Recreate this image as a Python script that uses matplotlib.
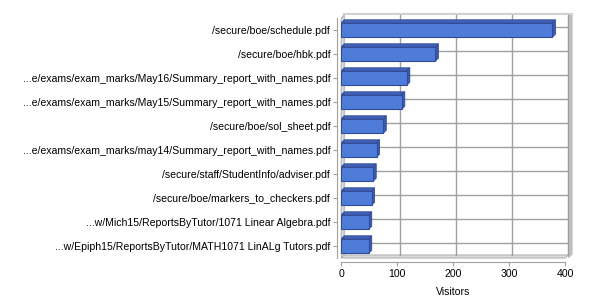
import matplotlib
matplotlib.use("Agg")
import matplotlib.pyplot as plt
from matplotlib.patches import Polygon

# datos
pages = [
    "/secure/boe/schedule.pdf",
    "/secure/boe/hbk.pdf",
    "...e/exams/exam_marks/May16/Summary_report_with_names.pdf",
    "...e/exams/exam_marks/May15/Summary_report_with_names.pdf",
    "/secure/boe/sol_sheet.pdf",
    "...e/exams/exam_marks/may14/Summary_report_with_names.pdf",
    "/secure/staff/StudentInfo/adviser.pdf",
    "/secure/boe/markers_to_checkers.pdf",
    "...w/Mich15/ReportsByTutor/1071 Linear Algebra.pdf",
    "...w/Epiph15/ReportsByTutor/MATH1071 LinALg Tutors.pdf",
]
visitors = [377, 168, 117, 108, 75, 63, 57, 54, 49, 49]
xticks = [0, 100, 200, 300, 400]

plt.rcParams['font.family'] = ['Liberation Sans', 'DejaVu Sans']

fig = plt.figure(figsize=(6, 3), dpi=100)
W, H = 224, 240  # pixeles del plano frontal
ax = fig.add_axes([341.3 / 600, 42 / 300, W / 600, H / 300])
ax.set_xlim(0, 400)
ax.set_ylim(len(pages) - 0.5, -0.5)

# profundidad 3D en pixeles -> datos
ddx = 3 * 400 / W
ddy = 3 * len(pages) / H
top = -0.5
bot = len(pages) - 0.5

# paredes
ax.add_patch(Polygon([(0, top), (ddx, top - ddy), (ddx, bot - ddy), (0, bot)],
                     closed=True, fc='#d9d9d9', ec='#b4b4b4', lw=0.8, clip_on=False, zorder=1))
ax.add_patch(Polygon([(0, bot), (400, bot), (400 + ddx, bot - ddy), (ddx, bot - ddy)],
                     closed=True, fc='#dcdcdc', ec='#b4b4b4', lw=0.8, clip_on=False, zorder=1))
ax.add_patch(Polygon([(400 + ddx, top - 1.2 * ddy), (400 + 2.3 * ddx, top - 1.2 * ddy),
                      (400 + 2.3 * ddx, bot - 1.2 * ddy), (400 + ddx, bot)],
                     closed=True, fc='#c0c0c0', ec='#c0c0c0', lw=0.5, clip_on=False, zorder=1))
ax.plot([ddx, 400 + 2.3 * ddx], [top - 1.2 * ddy, top - 1.2 * ddy], color='#d0d0d0', lw=1.5,
        clip_on=False, zorder=1)

# rejilla en el plano trasero
for t in xticks[1:]:
    ax.plot([t + ddx, t + ddx], [top - ddy, bot - ddy], color='#a0a0a0', lw=1, clip_on=False, zorder=1)
for i in range(len(pages)):
    ax.plot([ddx, 400 + ddx], [i - ddy, i - ddy], color='#a0a0a0', lw=1, clip_on=False, zorder=1)

# barras con efecto 3D
h = 0.3
for i, v in enumerate(visitors):
    ax.add_patch(Polygon([(0, i - h), (v, i - h), (v + ddx, i - h - ddy), (ddx, i - h - ddy)],
                         closed=True, fc='#3f62b8', ec='#2f4b99', lw=0.6, zorder=3))
    ax.add_patch(Polygon([(v, i - h), (v, i + h), (v + ddx, i + h - ddy), (v + ddx, i - h - ddy)],
                         closed=True, fc='#3a5aab', ec='#2f4b99', lw=0.6, zorder=3))
    ax.add_patch(Polygon([(0, i - h), (v, i - h), (v, i + h), (0, i + h)],
                         closed=True, fc='#4f7bd9', ec='#2f4b99', lw=0.8, zorder=4))

ax.set_facecolor('none')
for s in ['top', 'right']:
    ax.spines[s].set_visible(False)
for s in ['left', 'bottom']:
    ax.spines[s].set_position(('outward', 3))
    ax.spines[s].set_color('#a0a0a0')

ax.set_yticks(range(len(pages)))
ax.set_yticklabels(pages, fontsize=7.6)
ax.set_xticks(xticks)
ax.set_xticklabels([str(t) for t in xticks], fontsize=7.6)
ax.tick_params(axis='both', colors='#a0a0a0', labelcolor='black', length=3, width=0.8, pad=2)
ax.set_xlabel('Visitors', fontsize=7.6, labelpad=6)

fig.savefig('out.png', dpi=100)
